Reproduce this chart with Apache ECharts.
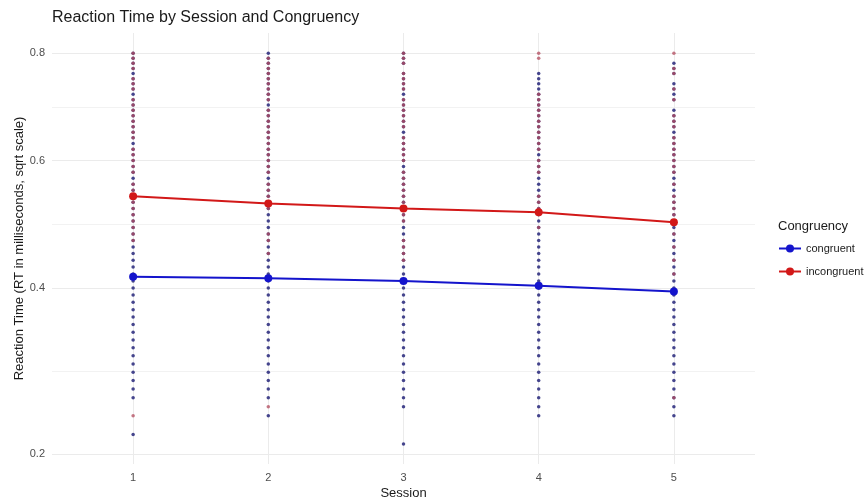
<!DOCTYPE html>
<html>
<head>
<meta charset="utf-8">
<script src="https://cdn.jsdelivr.net/npm/echarts@6/dist/echarts.min.js"></script>
<style>
  html, body { margin: 0; padding: 0; background: #ffffff; }
  #chart { width: 868px; height: 501px; }
</style>
</head>
<body>
<div id="chart"></div>
<script>
// Sessions on the x axis
const sessions = [1, 2, 3, 4, 5];
// Labelled y breaks (seconds), drawn on a square-root scale
const yTickLabels = [0.2, 0.4, 0.6, 0.8];

// Mean reaction time per session
const congruentMean = [0.416, 0.414, 0.410, 0.403, 0.395];
const incongruentMean = [0.540, 0.528, 0.520, 0.514, 0.498];

// Distinct trial reaction times observed per session
const congruentS1 = [0.22, 0.26, 0.27, 0.28, 0.29, 0.30, 0.31, 0.32, 0.33, 0.34, 0.35, 0.36, 0.37, 0.38, 0.39, 0.40, 0.41, 0.42, 0.43, 0.44, 0.45, 0.46, 0.47, 0.48, 0.49, 0.50, 0.51, 0.52, 0.53, 0.54, 0.55, 0.56, 0.57, 0.58, 0.59, 0.60, 0.61, 0.62, 0.63, 0.64, 0.65, 0.66, 0.67, 0.68, 0.69, 0.70, 0.71, 0.72, 0.73, 0.74, 0.75, 0.76, 0.77, 0.78, 0.79, 0.80];
const incongruentS1 = [0.24, 0.47, 0.48, 0.49, 0.50, 0.51, 0.52, 0.53, 0.54, 0.55, 0.56, 0.58, 0.59, 0.60, 0.61, 0.62, 0.64, 0.65, 0.66, 0.67, 0.68, 0.69, 0.70, 0.71, 0.73, 0.74, 0.75, 0.77, 0.78, 0.79, 0.80];

const congruentS2 = [0.24, 0.26, 0.27, 0.28, 0.29, 0.30, 0.31, 0.32, 0.33, 0.34, 0.35, 0.36, 0.37, 0.38, 0.39, 0.40, 0.41, 0.42, 0.43, 0.44, 0.45, 0.46, 0.47, 0.48, 0.49, 0.50, 0.51, 0.52, 0.53, 0.54, 0.55, 0.56, 0.57, 0.58, 0.59, 0.60, 0.61, 0.62, 0.63, 0.64, 0.65, 0.66, 0.67, 0.68, 0.69, 0.70, 0.71, 0.72, 0.73, 0.74, 0.75, 0.76, 0.77, 0.78, 0.79, 0.80];
const incongruentS2 = [0.25, 0.45, 0.47, 0.48, 0.52, 0.53, 0.54, 0.55, 0.56, 0.58, 0.59, 0.60, 0.61, 0.62, 0.63, 0.64, 0.65, 0.66, 0.67, 0.68, 0.69, 0.71, 0.72, 0.73, 0.74, 0.75, 0.76, 0.77, 0.78, 0.79];

const congruentS3 = [0.21, 0.25, 0.26, 0.27, 0.28, 0.29, 0.30, 0.31, 0.32, 0.33, 0.34, 0.35, 0.36, 0.37, 0.38, 0.39, 0.40, 0.41, 0.42, 0.43, 0.44, 0.45, 0.46, 0.47, 0.48, 0.49, 0.50, 0.51, 0.52, 0.53, 0.54, 0.55, 0.56, 0.57, 0.58, 0.59, 0.60, 0.61, 0.62, 0.63, 0.64, 0.65, 0.66, 0.67, 0.68, 0.69, 0.70, 0.71, 0.72, 0.73, 0.74, 0.75, 0.76, 0.78, 0.79, 0.80];
const incongruentS3 = [0.44, 0.45, 0.46, 0.47, 0.50, 0.51, 0.52, 0.53, 0.54, 0.55, 0.56, 0.57, 0.58, 0.60, 0.61, 0.62, 0.63, 0.64, 0.66, 0.67, 0.68, 0.69, 0.70, 0.71, 0.73, 0.74, 0.75, 0.76, 0.78, 0.79, 0.80];

const congruentS4 = [0.24, 0.25, 0.26, 0.27, 0.28, 0.29, 0.30, 0.31, 0.32, 0.33, 0.34, 0.35, 0.36, 0.37, 0.38, 0.39, 0.40, 0.41, 0.42, 0.43, 0.44, 0.45, 0.46, 0.47, 0.48, 0.49, 0.50, 0.51, 0.52, 0.53, 0.54, 0.55, 0.56, 0.57, 0.58, 0.59, 0.60, 0.61, 0.62, 0.63, 0.64, 0.65, 0.66, 0.67, 0.68, 0.69, 0.70, 0.71, 0.72, 0.73, 0.74, 0.75, 0.76];
const incongruentS4 = [0.49, 0.52, 0.53, 0.54, 0.58, 0.59, 0.60, 0.62, 0.63, 0.64, 0.65, 0.66, 0.67, 0.68, 0.69, 0.70, 0.71, 0.72, 0.79, 0.80];

const congruentS5 = [0.24, 0.25, 0.26, 0.27, 0.28, 0.29, 0.30, 0.31, 0.32, 0.33, 0.34, 0.35, 0.36, 0.37, 0.38, 0.39, 0.40, 0.41, 0.42, 0.43, 0.44, 0.45, 0.46, 0.47, 0.48, 0.49, 0.50, 0.51, 0.52, 0.53, 0.54, 0.55, 0.56, 0.57, 0.58, 0.59, 0.60, 0.61, 0.62, 0.63, 0.64, 0.65, 0.66, 0.67, 0.68, 0.69, 0.71, 0.72, 0.73, 0.74, 0.76, 0.77, 0.78];
const incongruentS5 = [0.26, 0.42, 0.44, 0.46, 0.48, 0.50, 0.51, 0.52, 0.53, 0.54, 0.56, 0.58, 0.59, 0.60, 0.61, 0.62, 0.63, 0.64, 0.66, 0.67, 0.68, 0.71, 0.73, 0.76, 0.77, 0.80];

const congruentTrials = [congruentS1, congruentS2, congruentS3, congruentS4, congruentS5];
const incongruentTrials = [incongruentS1, incongruentS2, incongruentS3, incongruentS4, incongruentS5];

// Square-root transform used for the y scale
const toSqrt = v => Math.sqrt(v);
const majorBreaks = yTickLabels.map(toSqrt);
// Minor grid sits halfway between major breaks in transformed space
const minorBreaks = majorBreaks.slice(1).map((b, i) => (b + majorBreaks[i]) / 2);

const Y_MIN = 0.436;
const Y_MAX = 0.917;

const FONT = '"Liberation Sans", Arial, sans-serif';
const BLUE = '#1414cc';
const RED = '#d21818';

function trialPoints(trials) {
  const pts = [];
  trials.forEach((vals, i) => {
    vals.forEach(v => pts.push([sessions[i], toSqrt(v)]));
  });
  return pts;
}

const chart = echarts.init(document.getElementById('chart'), null, { renderer: 'canvas' });

chart.setOption({
  backgroundColor: '#ffffff',
  animation: false,
  textStyle: { fontFamily: FONT },
  title: [
    {
      text: 'Reaction Time by Session and Congruency',
      left: 52, top: 10, padding: 0,
      textStyle: { fontFamily: FONT, fontSize: 16, fontWeight: 'normal', color: '#1a1a1a' }
    },
    {
      text: 'Congruency',
      left: 778, top: 220, padding: 0,
      textStyle: { fontFamily: FONT, fontSize: 13, fontWeight: 'normal', color: '#1a1a1a' }
    }
  ],
  legend: {
    data: ['congruent', 'incongruent'],
    orient: 'vertical',
    left: 778, top: 243,
    padding: 0,
    itemWidth: 22, itemHeight: 10,
    itemGap: 12,
    textStyle: { fontFamily: FONT, fontSize: 11, color: '#1a1a1a' },
    selectedMode: false
  },
  grid: { left: 52, right: 113, top: 33, bottom: 37, outerBoundsMode: 'none', containLabel: false },
  xAxis: {
    type: 'value',
    min: 0.4, max: 5.6,
    name: 'Session',
    nameLocation: 'middle',
    nameGap: 23,
    nameMoveOverlap: false,
    nameTextStyle: { fontFamily: FONT, fontSize: 13, color: '#1a1a1a' },
    axisLine: { show: false },
    axisTick: { show: false, customValues: sessions },
    axisLabel: { customValues: sessions, color: '#4d4d4d', fontSize: 11, margin: 8 },
    splitLine: { show: true, lineStyle: { color: '#ebebeb', width: 1 } }
  },
  yAxis: [
    {
      type: 'value',
      min: Y_MIN, max: Y_MAX,
      name: 'Reaction Time (RT in milliseconds, sqrt scale)',
      nameLocation: 'middle',
      nameGap: 26,
      nameRotate: 90,
      nameMoveOverlap: false,
      nameTextStyle: { fontFamily: FONT, fontSize: 13, color: '#1a1a1a' },
      axisLine: { show: false },
      axisTick: { show: false, customValues: majorBreaks },
      axisLabel: {
        customValues: majorBreaks,
        color: '#4d4d4d', fontSize: 11, margin: 7,
        formatter: v => (v * v).toFixed(1)
      },
      splitLine: { show: true, lineStyle: { color: '#ebebeb', width: 1 } }
    },
    {
      type: 'value',
      min: Y_MIN, max: Y_MAX,
      position: 'left',
      axisLine: { show: false },
      axisTick: { show: false, customValues: minorBreaks },
      axisLabel: { show: false },
      splitLine: { show: true, lineStyle: { color: '#f2f2f2', width: 1 } }
    }
  ],
  series: [
    {
      name: 'congruent trials',
      type: 'scatter',
      silent: true,
      symbol: 'circle',
      symbolSize: 3.5,
      itemStyle: { color: '#26267a', opacity: 0.85 },
      data: trialPoints(congruentTrials),
      z: 2
    },
    {
      name: 'incongruent trials',
      type: 'scatter',
      silent: true,
      symbol: 'circle',
      symbolSize: 3.5,
      itemStyle: { color: '#b24a5c', opacity: 0.75 },
      data: trialPoints(incongruentTrials),
      z: 3
    },
    {
      name: 'congruent',
      type: 'line',
      symbol: 'circle',
      symbolSize: 8,
      lineStyle: { color: BLUE, width: 2 },
      itemStyle: { color: BLUE },
      data: sessions.map((s, i) => [s, toSqrt(congruentMean[i])]),
      z: 5
    },
    {
      name: 'incongruent',
      type: 'line',
      symbol: 'circle',
      symbolSize: 8,
      lineStyle: { color: RED, width: 2 },
      itemStyle: { color: RED },
      data: sessions.map((s, i) => [s, toSqrt(incongruentMean[i])]),
      z: 5
    }
  ]
});
</script>
</body>
</html>
